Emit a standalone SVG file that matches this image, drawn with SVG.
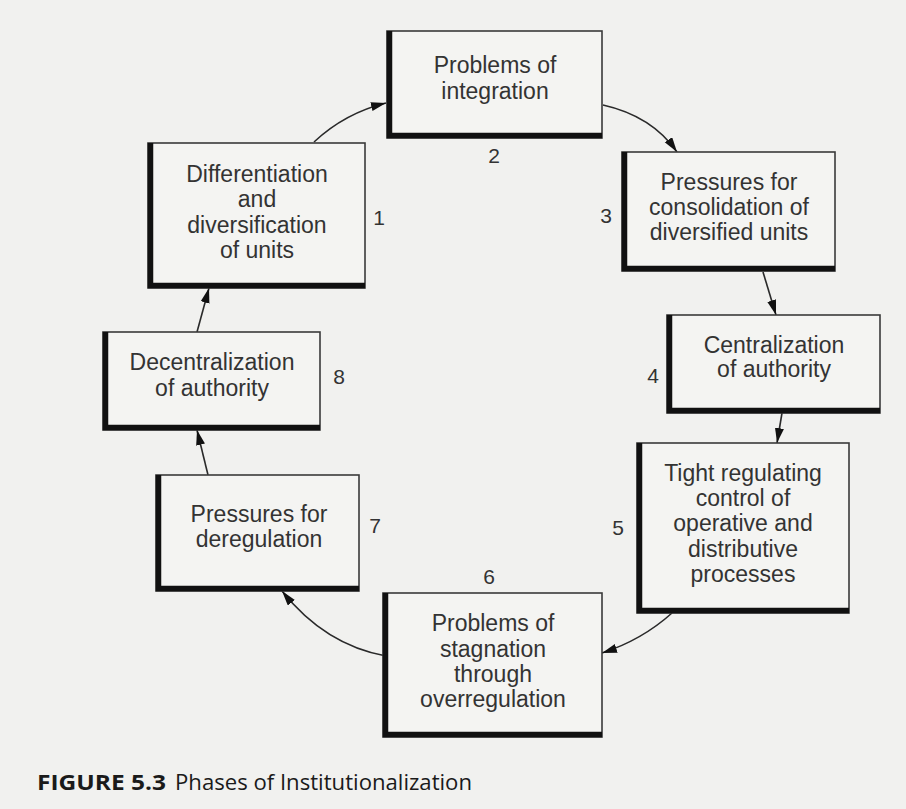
<svg xmlns="http://www.w3.org/2000/svg" width="906" height="809" viewBox="0 0 906 809">
<defs>
<style>
.bg{fill:#f1f1ef}
.box{fill:#f4f4f2;stroke:#3a3a3a;stroke-width:1.6}
.thick{fill:none;stroke:#111;stroke-width:5.5;stroke-linejoin:miter}
.t{font-family:"Liberation Sans",Arial,sans-serif;font-size:23px;fill:#333;text-anchor:middle}
.n{font-family:"Liberation Sans",Arial,sans-serif;font-size:21px;fill:#333;text-anchor:middle}
.cap{font-family:"Open Sans","Noto Sans",sans-serif;font-size:21px;fill:#1a1a1a}
.conn path{fill:none;stroke:#2a2a2a;stroke-width:1.6}
</style>
<marker id="ah" markerUnits="userSpaceOnUse" markerWidth="16" markerHeight="10" refX="15" refY="4.5" orient="auto">
<path d="M0,0 L15,4.5 L0,9 z" fill="#111"/>
</marker>
</defs>
<rect class="bg" x="0" y="0" width="906" height="809"/>

<g id="connectors" class="conn">
<path d="M314,142 Q345,113 386,103" marker-end="url(#ah)"/>
<path d="M603,105 Q652,116 677,152" marker-end="url(#ah)"/>
<path d="M763,272 L776,315" marker-end="url(#ah)"/>
<path d="M782,413 L777,443" marker-end="url(#ah)"/>
<path d="M672,613 Q642,640 602,653" marker-end="url(#ah)"/>
<path d="M386,656 Q325,645 282,591" marker-end="url(#ah)"/>
<path d="M208,475 L197,430" marker-end="url(#ah)"/>
<path d="M197,332 L209,288" marker-end="url(#ah)"/>
</g>

<g id="node1">
<rect class="box" x="148" y="143" width="217" height="145"/>
<path class="thick" d="M150.5,143 V285.5 H365"/>
<text class="t" x="257" y="182">Differentiation</text>
<text class="t" x="257" y="207">and</text>
<text class="t" x="257" y="233">diversification</text>
<text class="t" x="257" y="258">of units</text>
<text class="n" x="379" y="225">1</text>
</g>

<g id="node2">
<rect class="box" x="387" y="31" width="215" height="107"/>
<path class="thick" d="M389.5,31 V135.5 H602"/>
<text class="t" x="495" y="73">Problems of</text>
<text class="t" x="495" y="99">integration</text>
<text class="n" x="494" y="163">2</text>
</g>

<g id="node3">
<rect class="box" x="622" y="152" width="213" height="119"/>
<path class="thick" d="M624.5,152 V268.5 H835"/>
<text class="t" x="729" y="190">Pressures for</text>
<text class="t" x="729" y="215">consolidation of</text>
<text class="t" x="729" y="240">diversified units</text>
<text class="n" x="606" y="223">3</text>
</g>

<g id="node4">
<rect class="box" x="667" y="315" width="213" height="98"/>
<path class="thick" d="M669.5,315 V410.5 H880"/>
<text class="t" x="774" y="353">Centralization</text>
<text class="t" x="774" y="377">of authority</text>
<text class="n" x="653" y="383">4</text>
</g>

<g id="node5">
<rect class="box" x="637" y="443" width="212" height="170"/>
<path class="thick" d="M639.5,443 V610.5 H849"/>
<text class="t" x="743" y="481">Tight regulating</text>
<text class="t" x="743" y="506">control of</text>
<text class="t" x="743" y="531">operative and</text>
<text class="t" x="743" y="557">distributive</text>
<text class="t" x="743" y="582">processes</text>
<text class="n" x="618" y="535">5</text>
</g>

<g id="node6">
<rect class="box" x="383" y="593" width="219" height="144"/>
<path class="thick" d="M385.5,593 V734.5 H602"/>
<text class="t" x="493" y="631">Problems of</text>
<text class="t" x="493" y="657">stagnation</text>
<text class="t" x="493" y="682">through</text>
<text class="t" x="493" y="707">overregulation</text>
<text class="n" x="489" y="584">6</text>
</g>

<g id="node7">
<rect class="box" x="156" y="475" width="203" height="116"/>
<path class="thick" d="M158.5,475 V588.5 H359"/>
<text class="t" x="259" y="522">Pressures for</text>
<text class="t" x="259" y="547">deregulation</text>
<text class="n" x="375" y="533">7</text>
</g>

<g id="node8">
<rect class="box" x="103" y="332" width="217" height="98"/>
<path class="thick" d="M105.5,332 V427.5 H320"/>
<text class="t" x="212" y="370">Decentralization</text>
<text class="t" x="212" y="396">of authority</text>
<text class="n" x="339" y="384">8</text>
</g>

<g id="caption">
<text class="cap" x="37" y="790" font-weight="bold" textLength="129" lengthAdjust="spacingAndGlyphs">FIGURE 5.3</text>
<text class="cap" x="175" y="790" textLength="297" lengthAdjust="spacingAndGlyphs">Phases of Institutionalization</text>
</g>
</svg>
